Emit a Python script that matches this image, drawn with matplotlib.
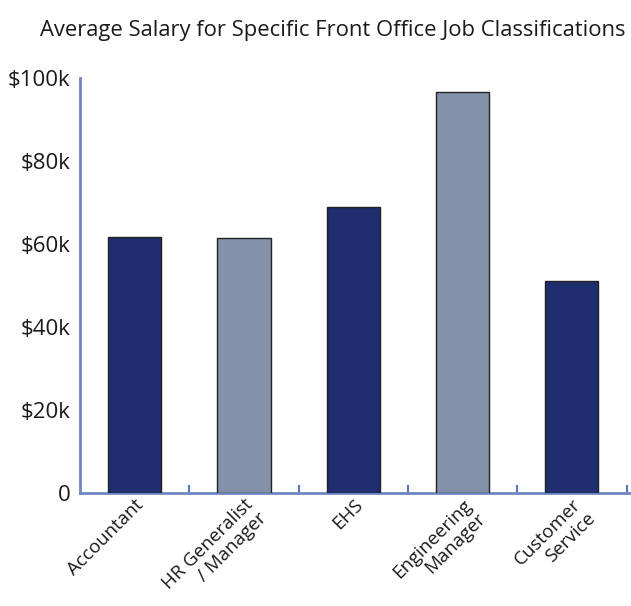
import matplotlib.pyplot as plt
from matplotlib.ticker import FuncFormatter

jobs = ['Accountant', 'HR Generalist\n/ Manager', 'EHS', 'Engineering\nManager', 'Customer\nService']
salaries = [61700, 61400, 68900, 96600, 51100]
colors = ['#1f2e6e', '#8391ab', '#1f2e6e', '#8391ab', '#1f2e6e']

plt.rcParams['font.family'] = ['Open Sans', 'DejaVu Sans']

fig = plt.figure(figsize=(6.31, 6.06), dpi=100)
ax = fig.add_axes([0.1268, 0.1865, 0.8732, 0.6848])

x = range(len(jobs))
ax.bar(x, salaries, width=0.485, color=colors, edgecolor='#222222', linewidth=1.0, zorder=3)

ax.set_xlim(-0.5, 4.54)
ax.set_ylim(0, 100000)
ax.set_yticks([0, 20000, 40000, 60000, 80000, 100000])
ax.yaxis.set_major_formatter(FuncFormatter(lambda v, p: '0' if v == 0 else f'${int(v / 1000)}k'))
ax.tick_params(axis='y', length=0, pad=7, labelsize=16, labelcolor='#1a1a1a')
for t in ax.get_yticklabels():
    t.set_fontweight('medium')

ax.set_xticks(list(x))
ax.set_xticklabels(jobs, rotation=45, ha='right', rotation_mode='anchor', multialignment='right',
                   fontsize=13.5, color='#1a1a1a', linespacing=1.1, fontweight='medium')
ax.tick_params(axis='x', which='major', length=0, pad=2)
ax.set_xticks([i + 0.5 for i in range(5)], minor=True)
ax.tick_params(axis='x', which='minor', direction='in', length=6, width=1.5, color='#5a73c0')

for s in ['top', 'right']:
    ax.spines[s].set_visible(False)
ax.spines['left'].set_color('#6f86c0')
ax.spines['bottom'].set_color('#6f86c0')
ax.spines['left'].set_linewidth(2)
ax.spines['bottom'].set_linewidth(2)

fig.text(0.527, 0.95, 'Average Salary for Specific Front Office Job Classifications',
         ha='center', va='center', fontsize=15.8, color='#1a1a1a', fontweight='medium')

fig.savefig('out.png', dpi=100)
